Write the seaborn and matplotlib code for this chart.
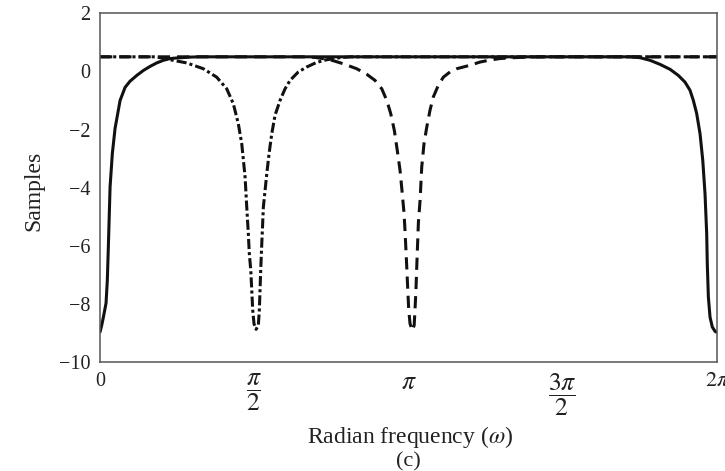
import numpy as np
import matplotlib
matplotlib.use("Agg")
import matplotlib.pyplot as plt
import seaborn as sns

# values (omega in radians, group delay in samples)
# solid: zero at angle 0 (dips at 0 and 2*pi)
w_solid = [0.000, 0.017, 0.034, 0.061, 0.074, 0.085, 0.102, 0.125, 0.153, 0.204,
           0.255, 0.305, 0.374, 0.441, 0.509, 0.577, 0.645, 0.713, 0.781, 0.916,
           1.018, 5.397, 5.499, 5.601, 5.703, 5.805, 5.889, 5.957, 6.008, 6.042,
           6.076, 6.110, 6.138, 6.161, 6.178, 6.184, 6.195, 6.212, 6.235, 6.263,
           6.273, 6.283]
d_solid = [-8.96, -8.73, -8.45, -7.97, -7.19, -5.98, -3.98, -2.83, -1.96, -1.00,
           -0.55, -0.34, -0.14, 0.03, 0.17, 0.29, 0.38, 0.44, 0.46, 0.49,
           0.50, 0.50, 0.47, 0.38, 0.24, 0.07, -0.14, -0.37, -0.65, -1.00,
           -1.45, -2.14, -3.06, -4.21, -5.58, -6.61, -7.76, -8.45, -8.79, -8.94,
           -8.96, -8.97]

# dash-dot: zero at angle pi/2
w_dashdot = [0.000, 0.560, 0.631, 0.713, 0.883, 1.052, 1.188, 1.290, 1.357, 1.408,
             1.443, 1.477, 1.494, 1.510, 1.520, 1.535, 1.545, 1.555, 1.568, 1.589,
             1.612, 1.622, 1.629, 1.636, 1.647, 1.653, 1.663, 1.698, 1.721, 1.749,
             1.782, 1.833, 1.884, 1.935, 2.019, 2.105, 2.207, 2.309, 2.444, 2.550,
             6.283]
d_dashdot = [0.50, 0.50, 0.46, 0.40, 0.29, 0.09, -0.20, -0.60, -1.11, -1.80,
             -2.49, -3.63, -4.67, -5.58, -6.26, -6.84, -7.53, -8.22, -8.68, -8.87,
             -8.73, -8.22, -7.53, -6.84, -5.92, -5.47, -4.67, -3.52, -2.83, -2.14,
             -1.51, -1.00, -0.60, -0.31, -0.02, 0.15, 0.31, 0.40, 0.47, 0.50,
             0.50]

# dashed: zero at angle pi
w_dashed = [0.000, 2.060, 2.189, 2.342, 2.478, 2.614, 2.716, 2.800, 2.869, 2.920,
            2.960, 2.997, 3.027, 3.055, 3.078, 3.096, 3.106, 3.116, 3.125, 3.134,
            3.144, 3.157, 3.181, 3.199, 3.207, 3.217, 3.224, 3.234, 3.242, 3.259,
            3.276, 3.299, 3.327, 3.360, 3.394, 3.445, 3.496, 3.564, 3.632, 3.768,
            3.870, 3.971, 4.073, 4.209, 4.345, 4.500, 6.283]
d_dashed = [0.50, 0.50, 0.48, 0.40, 0.26, 0.09, -0.10, -0.31, -0.60, -1.00,
            -1.45, -2.03, -2.72, -3.40, -4.21, -4.89, -5.50, -6.20, -6.84, -7.53,
            -8.22, -8.68, -8.91, -8.73, -8.22, -7.53, -6.84, -5.92, -5.20, -4.44,
            -3.29, -2.49, -1.92, -1.34, -0.88, -0.48, -0.20, -0.02, 0.09, 0.21,
            0.32, 0.39, 0.44, 0.47, 0.49, 0.50, 0.50]

x_ticks = [0, np.pi / 2, np.pi, 3 * np.pi / 2, 2 * np.pi]
x_labels = ["0", r"$\dfrac{\pi}{2}$", r"$\pi$", r"$\dfrac{3\pi}{2}$", r"$2\pi$"]
x_label_sizes = [14.5, 18.5, 18.5, 18.5, 16]
y_ticks = [-10, -8, -6, -4, -2, 0, 2]

sns.set_style("white")
plt.rcParams["font.family"] = ["Liberation Serif", "DejaVu Serif"]
plt.rcParams["mathtext.fontset"] = "stix"
plt.rcParams["axes.unicode_minus"] = True

fig = plt.figure(figsize=(7.25, 4.71), dpi=100)
ax = fig.add_axes([0.138, 0.231, 0.851, 0.741])

lw = 2.2
ink = "#111111"
sns.lineplot(x=w_dashed, y=d_dashed, ax=ax, color=ink, lw=lw,
             estimator=None, sort=False, linestyle=(0, (4.0, 2.3)))
sns.lineplot(x=w_dashdot, y=d_dashdot, ax=ax, color=ink, lw=lw,
             estimator=None, sort=False, linestyle=(0, (3.3, 1.0, 1.0, 1.0)))
sns.lineplot(x=w_solid, y=d_solid, ax=ax, color=ink, lw=lw,
             estimator=None, sort=False)

ax.set_xlim(0, 2 * np.pi)
ax.set_ylim(-10, 2)
ax.set_xticks(x_ticks)
ax.set_xticklabels(x_labels)
ax.set_yticks(y_ticks)
ax.set_yticklabels([str(v).replace("-", "\u2212") for v in y_ticks])
ax.tick_params(direction="in", length=11, width=1, color="#444444",
               labelsize=14.5, labelcolor="#222222")
ax.tick_params(axis="x", pad=7)
ax.tick_params(axis="y", pad=7)
for lab, fs in zip(ax.get_xticklabels(), x_label_sizes):
    lab.set_fontsize(fs)
for s in ax.spines.values():
    s.set_color("#555555")
    s.set_linewidth(1.1)

ax.set_xlabel(r"Radian frequency ($\omega$)", fontsize=17, color="#222222")
ax.set_ylabel("Samples", fontsize=17, color="#222222")
ax.xaxis.set_label_coords(0.502, -0.176)
ax.yaxis.set_label_coords(-0.091, 0.49)
fig.text(0.563, 0.0, "(c)", ha="center", va="bottom", fontsize=16, color="#222222")

fig.savefig("out.png", dpi=100)
